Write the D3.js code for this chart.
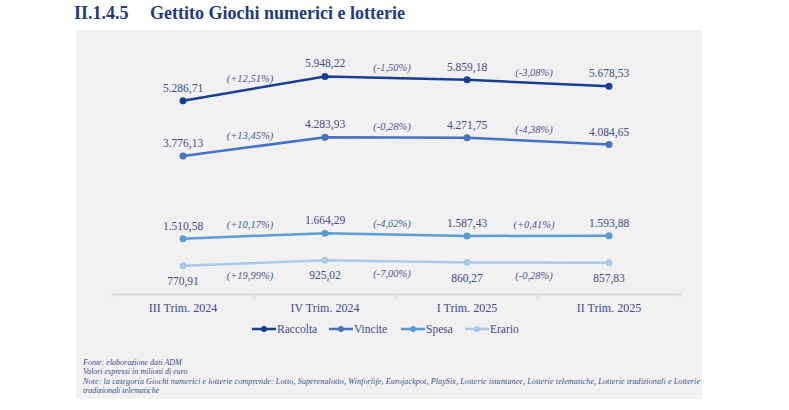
<!DOCTYPE html>
<html>
<head>
<meta charset="utf-8">
<script src="https://cdn.jsdelivr.net/npm/d3@7"></script>
<style>
  body { margin: 0; background: #fff; }
  svg text { font-family: "Liberation Serif", "Times New Roman", serif; }
</style>
</head>
<body>
<svg id="chart"></svg>
<script>
// Categories and series (milioni di euro)
const quarters = ["III Trim. 2024", "IV Trim. 2024", "I Trim. 2025", "II Trim. 2025"];
const raccolta = [5286.71, 5948.22, 5859.18, 5678.53];
const vincite = [3776.13, 4283.93, 4271.75, 4084.65];
const spesa = [1510.58, 1664.29, 1587.43, 1593.88];
const erario = [770.91, 925.02, 860.27, 857.83];
// Percentage change labels between quarters
const raccoltaVar = ["(+12,51%)", "(-1,50%)", "(-3,08%)"];
const vinciteVar = ["(+13,45%)", "(-0,28%)", "(-4,38%)"];
const spesaVar = ["(+10,17%)", "(-4,62%)", "(+0,41%)"];
const erarioVar = ["(+19,99%)", "(-7,00%)", "(-0,28%)"];
const seriesNames = ["Raccolta", "Vincite", "Spesa", "Erario"];
const notes = [
    "Fonte: elaborazione dati ADM",
    "Valori espressi in milioni di euro",
    "Note: la categoria Giochi numerici e lotterie comprende: Lotto, Superenalotto, Winforlife, Eurojackpot, PlaySix, Lotterie istantanee, Lotterie telematiche, Lotterie tradizionali e Lotterie",
    "tradizionali telematiche"
];

const width = 789, height = 410;
const colors = ["#173f8f", "#4472c4", "#5b9bd5", "#a9c9ea"];
const textColor = "#3d4c8c";
const serif = "'Liberation Serif', 'Times New Roman', serif";

const svg = d3.select("#chart")
    .attr("width", width)
    .attr("height", height);

// Title
const title = svg.append("text")
    .attr("x", 74)
    .attr("y", 19)
    .attr("font-family", serif)
    .style("font-size", "18px")
    .style("font-weight", "bold")
    .style("fill", "#1f3a7e");
title.append("tspan").text("II.1.4.5");
title.append("tspan").attr("x", 150).text("Gettito Giochi numerici e lotterie");

// Grey panel
svg.append("rect")
    .attr("x", 76)
    .attr("y", 30)
    .attr("width", 626)
    .attr("height", 369)
    .attr("fill", "#f1f1f1");

// Scales
const x = d3.scaleBand()
    .domain(quarters)
    .range([112, 680]);

const y = d3.scaleLinear()
    .domain([0, 7000])
    .range([294, 38]);

const cx = d => x(d) + x.bandwidth() / 2;

// X axis
const xAxis = svg.append("g")
    .attr("transform", "translate(0,294)")
    .call(d3.axisBottom(x).tickSize(0).tickPadding(9));
xAxis.select(".domain").attr("stroke", "#d4d4d4").attr("stroke-width", 1.5);
xAxis.selectAll("text")
    .attr("font-family", serif)
    .style("font-size", "12px")
    .style("fill", textColor);
// band boundary ticks
xAxis.selectAll(".sep")
    .data(quarters.concat([null]))
    .enter()
    .append("line")
    .attr("x1", (d, i) => 112 + i * x.bandwidth())
    .attr("x2", (d, i) => 112 + i * x.bandwidth())
    .attr("y1", 0)
    .attr("y2", 4)
    .attr("stroke", "#d4d4d4");

const series = [
    { values: raccolta, vars: raccoltaVar, below: false, varOff: -10 },
    { values: vincite, vars: vinciteVar, below: false, varOff: -11 },
    { values: spesa, vars: spesaVar, below: false, varOff: -11 },
    { values: erario, vars: erarioVar, below: true, varOff: 13 }
];

const fmt = v => {
    const s = v.toFixed(2).split(".");
    return s[0].replace(/\B(?=(\d{3})+(?!\d))/g, ".") + "," + s[1];
};

const line = d3.line()
    .x((d, i) => cx(quarters[i]))
    .y(d => y(d));

series.forEach((s, k) => {
    const g = svg.append("g");

    g.append("path")
        .attr("d", line(s.values))
        .attr("fill", "none")
        .attr("stroke", colors[k])
        .attr("stroke-width", 2.5);

    g.selectAll("circle")
        .data(s.values)
        .enter()
        .append("circle")
        .attr("cx", (d, i) => cx(quarters[i]))
        .attr("cy", d => y(d))
        .attr("r", 3.5)
        .attr("fill", colors[k]);

    // value labels
    g.selectAll(".val")
        .data(s.values)
        .enter()
        .append("text")
        .attr("x", (d, i) => cx(quarters[i]))
        .attr("y", d => y(d) + (s.below ? 19 : -9))
        .attr("text-anchor", "middle")
        .attr("font-family", serif)
        .style("font-size", "11.5px")
        .style("fill", textColor)
        .text(d => fmt(d));

    // percentage change labels
    g.selectAll(".var")
        .data(s.vars)
        .enter()
        .append("text")
        .attr("x", (d, i) => (cx(quarters[i]) + cx(quarters[i + 1])) / 2 - 4)
        .attr("y", (d, i) => (y(s.values[i]) + y(s.values[i + 1])) / 2 + s.varOff + 3)
        .attr("text-anchor", "middle")
        .attr("font-family", serif)
        .style("font-size", "10.5px")
        .style("font-style", "italic")
        .style("fill", "#4a5694")
        .text(d => d);
});

// Legend
const legendX = [252, 329, 401, 465];
const legend = svg.append("g")
    .attr("transform", "translate(0,329)");

legend.selectAll(".legend-item")
    .data(seriesNames)
    .enter()
    .append("g")
    .attr("class", "legend-item")
    .attr("transform", (d, i) => `translate(${legendX[i]},0)`)
    .each(function (d, i) {
        d3.select(this).append("line")
            .attr("x1", 0).attr("x2", 24)
            .attr("stroke", colors[i])
            .attr("stroke-width", 2.5);
        d3.select(this).append("circle")
            .attr("cx", 12).attr("r", 3)
            .attr("fill", colors[i]);
        d3.select(this).append("text")
            .attr("x", 25)
            .attr("y", 4)
            .attr("font-family", serif)
            .style("font-size", "11.5px")
            .style("fill", textColor)
            .text(d);
    });

// Footnotes
svg.append("g")
    .selectAll("text")
    .data(notes)
    .enter()
    .append("text")
    .attr("x", 83)
    .attr("y", (d, i) => 365 + i * 9.3)
    .attr("font-family", serif)
    .style("font-size", "8px")
    .style("font-style", "italic")
    .style("fill", "#3d4c8c")
    .each(function (d, i) {
        if (i === 2) {
            d3.select(this).attr("textLength", 617).attr("lengthAdjust", "spacing");
        }
    })
    .text(d => d);
</script>
</body>
</html>
